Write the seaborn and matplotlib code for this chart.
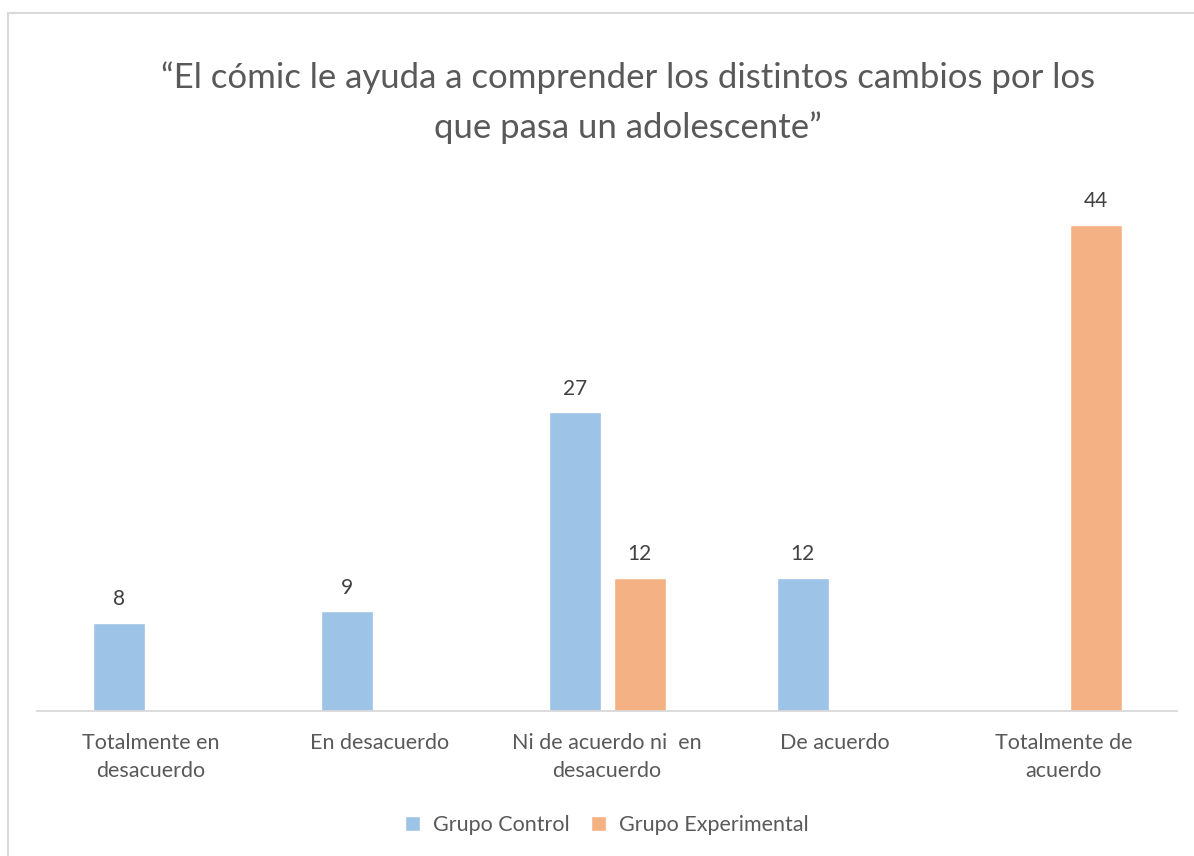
import pandas as pd
import seaborn as sns
import matplotlib.pyplot as plt
from matplotlib.patches import Rectangle

# Chart data
categories = ["Totalmente en\ndesacuerdo", "En desacuerdo", "Ni de acuerdo ni  en\ndesacuerdo",
              "De acuerdo", "Totalmente de\nacuerdo"]
grupo_control = [8, 9, 27, 12, None]
grupo_experimental = [None, None, 12, None, 44]
series_names = ["Grupo Control", "Grupo Experimental"]
title = "\u201cEl cómic le ayuda a comprender los distintos cambios por los\nque pasa un adolescente\u201d"

colors = ["#9DC3E6", "#F4B183"]
text_grey = "#595959"

df = pd.DataFrame({
    "categoria": categories * 2,
    "valor": grupo_control + grupo_experimental,
    "grupo": [series_names[0]] * 5 + [series_names[1]] * 5,
})

sns.set_style("white")
plt.rcParams["font.family"] = ["Lato", "DejaVu Sans"]

fig = plt.figure(figsize=(11.94, 8.56), dpi=100)
ax = fig.add_axes([0.031, 0.1694, 0.955, 0.62])

sns.barplot(data=df, x="categoria", y="valor", hue="grupo", palette=colors,
            saturation=1, width=0.57, gap=0.2, ax=ax, legend=True)

# Data labels only for bars that have values
for container in ax.containers:
    labels = ["" if (v != v) else f"{v:.0f}" for v in container.datavalues]
    ax.bar_label(container, labels=labels, padding=10, fontsize=15, color="#404040")

ax.set_ylim(0, 48)
ax.set_xlim(-0.5, 4.5)
ax.set_xlabel("")
ax.set_ylabel("")
ax.set_yticks([])
ax.tick_params(axis="x", length=0, pad=16, labelsize=15.5, labelcolor=text_grey)
for lbl in ax.get_xticklabels():
    lbl.set_linespacing(1.5)
for s in ["top", "right", "left"]:
    ax.spines[s].set_visible(False)
ax.spines["bottom"].set_color("#D9D9D9")
ax.spines["bottom"].set_linewidth(1.3)

fig.text(0.526, 0.929, title, ha="center", va="top", fontsize=25, color=text_grey,
         linespacing=1.65)

ax.legend(loc="center", bbox_to_anchor=(0.5, -0.215), ncol=2, frameon=False,
          fontsize=15.5, labelcolor=text_grey, handlelength=0.7, handleheight=0.7,
          columnspacing=1.0, handletextpad=0.6)

# Chart area border
fig.add_artist(Rectangle((8 / 1194, -0.05), 1.1, 1 - 13 / 856 + 0.05,
                         transform=fig.transFigure, fill=False,
                         edgecolor="#D9D9D9", linewidth=1.5))

fig.savefig("out.png", dpi=100)
